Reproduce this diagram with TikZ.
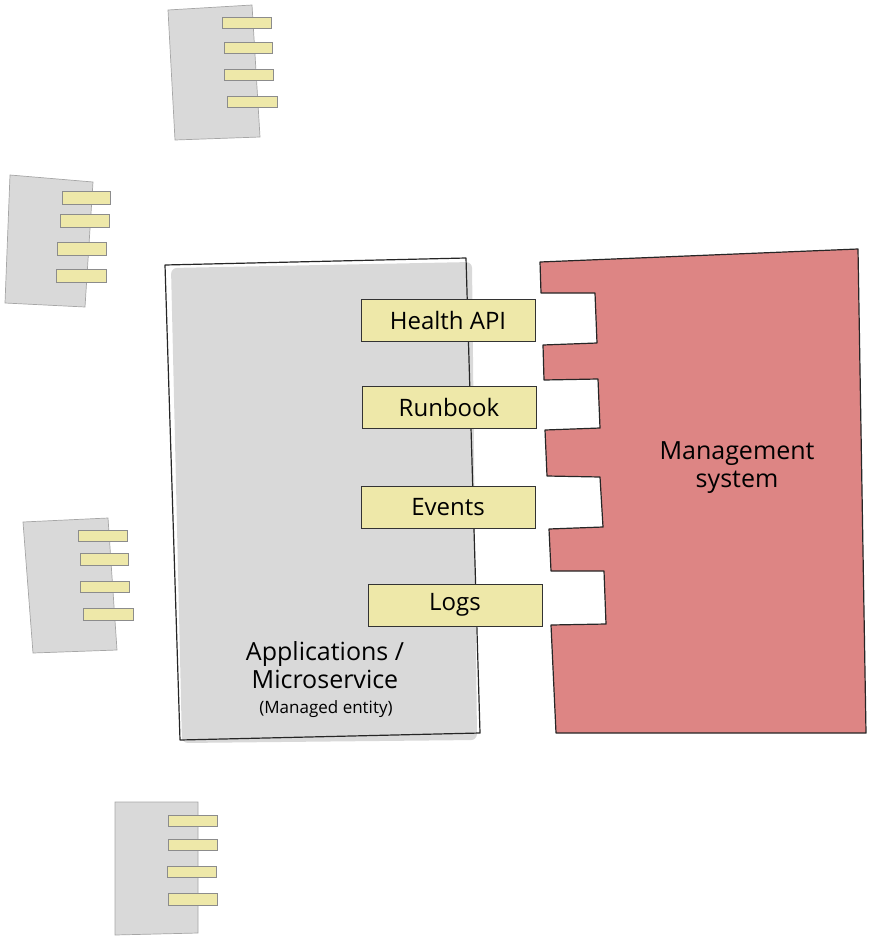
\documentclass[tikz,border=0pt]{standalone}
\usepackage{fontspec}
\setmainfont{Open Sans}
\usepackage{tikz}

\definecolor{appgray}{HTML}{D9D9D9}
\definecolor{mgmtred}{HTML}{DD8584}
\definecolor{tabyellow}{HTML}{EEE8A9}

\tikzset{
  sketch/.style={draw=black!85, line width=1.2pt, line join=round},
  tab/.style={draw=black!80, fill=tabyellow, line width=1pt, minimum width=174pt,
    minimum height=42pt, inner sep=0pt, font=\fontsize{24}{28}\selectfont},
  minibox/.style={fill=appgray, draw=black!35, line width=0.7pt},
  minitab/.style={fill=tabyellow, draw=black!45, line width=0.6pt},
  label/.style={align=center, font=\fontsize{25}{28}\selectfont},
}

\begin{document}
\begin{tikzpicture}[x=1pt, y=-1pt]
  \useasboundingbox (0,0) rectangle (882,937);

  % small service icons on the left
  \path[minibox] (168,10) -- (252,5) -- (260,137) -- (175,140) -- cycle;
  \path[minitab] (222,17) rectangle (271,28);
  \path[minitab] (224,42) rectangle (272,53);
  \path[minitab] (224,69) rectangle (273,80);
  \path[minitab] (227,96) rectangle (277,107);

  \path[minibox] (10,175) -- (93,182) -- (85,307) -- (5,303) -- cycle;
  \path[minitab] (62,191) rectangle (110,204);
  \path[minitab] (60,214) rectangle (109,227);
  \path[minitab] (57,242) rectangle (106,255);
  \path[minitab] (56,269) rectangle (106,282);

  \path[minibox] (23,522) -- (108,518) -- (117,650) -- (33,653) -- cycle;
  \path[minitab] (78,530) rectangle (127,541);
  \path[minitab] (80,553) rectangle (128,565);
  \path[minitab] (80,581) rectangle (129,592);
  \path[minitab] (83,608) rectangle (133,620);

  \path[minibox] (115,802) -- (198,802) -- (198,933) -- (115,935) -- cycle;
  \path[minitab] (168,815) rectangle (217,826);
  \path[minitab] (168,839) rectangle (217,850);
  \path[minitab] (167,866) rectangle (216,877);
  \path[minitab] (168,893) rectangle (217,905);

  % managed entity
  \fill[appgray, rounded corners=6pt] (171,268) -- (472,262) -- (477,740) -- (182,743) -- cycle;
  \draw[sketch] (165,265) -- (466,258) -- (480,733) -- (180,740) -- cycle;
  \node[label] (app) at (325,665) {Applications /\\Microservice};
  \node[font=\fontsize{17}{20}\selectfont] (entity) at (326,709) {(Managed entity)};

  % management system with its sockets
  \path[sketch, fill=mgmtred] (540,262) -- (858,249) -- (866,733) -- (556,733)
    -- (551,625) -- (606,624) -- (604,571) -- (551,571)
    -- (549,529) -- (603,527) -- (600,477) -- (547,476)
    -- (545,430) -- (600,428) -- (598,379) -- (544,380)
    -- (543,345) -- (597,343) -- (595,293) -- (541,293) -- cycle;
  \node[label] (mgmt) at (737,468) {Management\\system};

  % interfaces
  \node[tab] (health) at (448,320) {Health API};
  \node[tab] (runbook) at (449,407) {Runbook};
  \node[tab] (events) at (448,507) {Events};
  \node[tab] (logs) at (455,605) {Logs};
\end{tikzpicture}
\end{document}
